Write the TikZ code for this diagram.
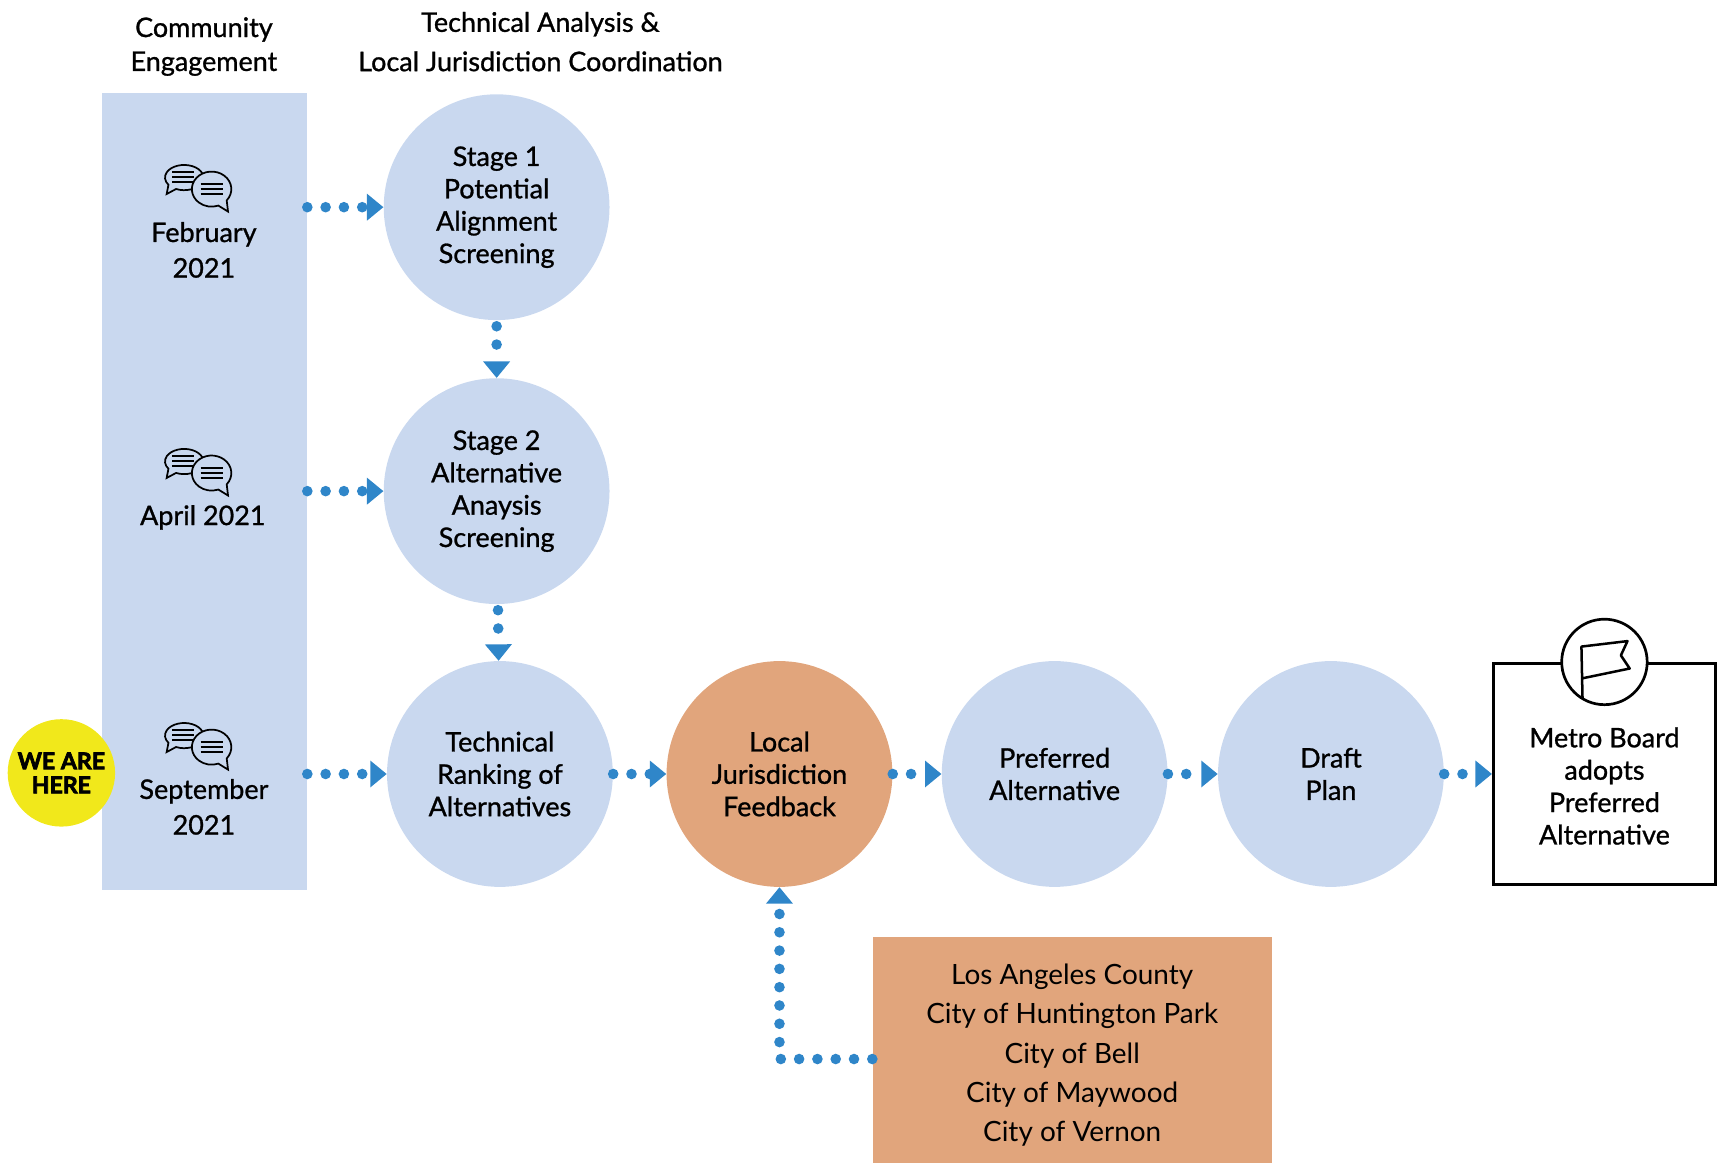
\documentclass[tikz,border=0pt]{standalone}
\usepackage{fontspec}
\setmainfont{Lato}
\newfontfamily\medfont{Lato}[FakeBold=1]
\newfontfamily\heavyfont{Lato}[BoldFeatures={FakeBold=3}]
\usetikzlibrary{arrows.meta,positioning,calc}
\definecolor{paleblue}{RGB}{201,216,239}
\definecolor{clay}{RGB}{225,165,124}
\definecolor{sun}{RGB}{241,232,27}
\definecolor{flowblue}{RGB}{47,134,201}
\tikzset{stage/.style={circle, fill=paleblue, minimum size=4.12cm, inner sep=0pt, align=center, font=\medfont\fontsize{14}{16.8}\selectfont},
title/.style={align=center, font=\medfont\fontsize{14}{17.6}\selectfont},
month/.style={align=center, font=\medfont\fontsize{14}{18.5}\selectfont},
flow/.style={draw=flowblue, line width=5.5pt, line cap=round, dash pattern=on 0pt off 9.5pt, -{Triangle[length=8.5pt,width=14pt,line width=0pt]}},
chat/.pic={\begin{scope}[yscale=-1, line width=0.9pt]
\draw[fill=paleblue] (-20.4,-1.4) arc[start angle=245, end angle=575, x radius=17.5, y radius=11.5] -- (-29,-6) -- cycle;
\foreach \ly in {14,9.5,5} \draw[line width=1.2pt] (-24,\ly) -- (-4,\ly);
\draw[fill=paleblue] (25.8,-11.8) arc[start angle=320, end angle=650, x radius=18, y radius=16] -- (27,-22) -- cycle;
\foreach \ly in {3,-1.5,-6} \draw[line width=1.2pt] (2,\ly) -- (22,\ly);
\end{scope}},
flag/.pic={\begin{scope}[yscale=-1]
\draw[line width=1.3pt, line join=round] (-20,-33) -- (-21,14) -- (21,19) -- (15,6) -- (23,-6) -- (-20.4,-15);
\end{scope}}}

\begin{document}
\begin{tikzpicture}[x=0.02cm, y=-0.02cm]
\useasboundingbox (0,0) rectangle (1568,1060);
% community engagement column
\node[fill=paleblue, minimum width=3.74cm, minimum height=14.54cm, inner sep=0pt] (engage) at (186.5,448.5) {};
\node[title] (engtitle) at (186,42.5) {Community\\Engagement};
\node[title, font=\medfont\fontsize{14}{20.4}\selectfont] (techtitle) at (493,38) {Technical Analysis \&\\Local Jurisdiction Coordination};
\pic at (181,171) {chat};
\pic at (181,430) {chat};
\pic at (181,680) {chat};
\node[month] (feb) at (186,228) {February\\2021};
\node[month] (apr) at (185,472) {April 2021};
\node[month] (sep) at (186,736) {September\\2021};
\node[circle, fill=sun, minimum size=1.96cm, inner sep=0pt, align=center, font=\heavyfont\bfseries\fontsize{12}{12.5}\selectfont] (weare) at (56,705) {WE ARE\\HERE};
% stages
\node[stage] (stage1) at (453,189) {Stage 1\\Potential\\Alignment\\Screening};
\node[stage] (stage2) at (453,448) {Stage 2\\Alternative\\Anaysis\\Screening};
\node[stage] (rank) at (456,706) {Technical\\Ranking of\\Alternatives};
\node[stage, fill=clay] (local) at (711,706) {Local\\Jurisdiction\\Feedback};
\node[stage] (pref) at (962,706) {Preferred\\Alternative};
\node[stage] (draft) at (1214,706) {Draft\\Plan};
\node[draw, line width=1.4pt, minimum width=4.06cm, minimum height=4.04cm, inner sep=0pt] (metro) at (1463.5,706) {};
\node[align=center, font=\medfont\fontsize{14}{16.8}\selectfont] (metrotext) at ([yshift=-0.22cm]metro.center) {Metro Board\\adopts\\Preferred\\Alternative};
\node[circle, draw, fill=white, line width=1.4pt, minimum size=1.56cm, inner sep=0pt] (flagring) at (metro.north) {};
\pic at (flagring.center) {flag};
\node[fill=clay, minimum width=7.28cm, minimum height=4.3cm, inner sep=0pt, align=center, font=\fontsize{14.5}{20.4}\selectfont] (list) at (978,962.5) {Los Angeles County\\City of Huntington Park\\City of Bell\\City of Maywood\\City of Vernon};
% connectors
\draw[flow] (engage.east |- stage1) -- (stage1);
\draw[flow] (engage.east |- stage2) -- (stage2);
\draw[flow] (engage.east |- rank) -- (rank);
\draw[flow, shorten <=3pt] (stage1) -- (stage2);
\draw[flow, shorten <=3pt] (stage2) -- (rank);
\draw[flow] (rank) -- (local);
\draw[flow] (local) -- (pref);
\draw[flow] (pref) -- (draft);
\draw[flow] (draft) -- (metro);
\draw[flow] ([yshift=-0.07cm]list.west) -| (local);
\end{tikzpicture}
\end{document}
